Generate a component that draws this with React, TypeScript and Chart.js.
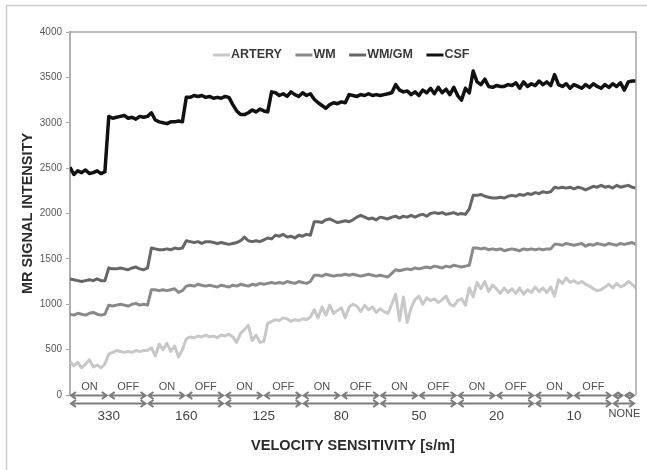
import React, { useEffect, useRef } from 'react';
import { Chart, registerables } from 'chart.js';

Chart.register(...registerables);

const FONT = "'Liberation Sans', Arial, Helvetica, sans-serif";

const SERIES_NAMES = ['ARTERY', 'WM', 'WM/GM', 'CSF'];
const SERIES_COLORS = ['#c8c8c8', '#8a8a8a', '#666666', '#111111'];

const ARTERY = [
  370, 320, 360, 300, 340, 390, 310, 330, 300, 340,
  450, 470, 490, 480, 470, 480, 470, 490, 480, 490,
  490, 520, 430, 560, 500, 570, 480, 540, 420, 500,
  620, 640, 630, 650, 640, 660, 640, 650, 630, 660,
  650, 670, 640, 580, 680, 720, 770, 600, 660, 580,
  590, 790, 810, 830, 820, 850, 840, 810, 830, 820,
  840, 830, 860, 940, 850, 970, 880, 990, 900, 930,
  960, 850, 970, 1000, 980, 920, 990, 940, 970, 910,
  950, 920, 900, 1000, 1110, 820, 1080, 800, 960, 1050,
  1090, 1000, 1070, 1040, 1060, 1020, 1050, 1090, 1000, 980,
  1040, 1060, 990, 1180, 1080, 1240, 1170, 1250, 1140, 1210,
  1170, 1120, 1180, 1130, 1170, 1120, 1180, 1110, 1160, 1130,
  1190, 1140, 1180, 1130, 1190, 1090, 1270, 1230, 1290, 1240,
  1260, 1230, 1250, 1220, 1200, 1170, 1150, 1160, 1190, 1220,
  1180, 1230, 1190, 1210, 1250, 1220, 1180,
];

const WM = [
  890, 880, 900, 890, 880, 900, 910, 890, 880, 890,
  990, 980, 990, 1000, 990, 980, 1000, 1010, 990, 1000,
  990, 1160, 1160, 1150, 1160, 1150, 1160, 1170, 1130, 1150,
  1200, 1210, 1200, 1220, 1210, 1200, 1210, 1200, 1190, 1210,
  1200, 1190, 1210, 1200, 1220, 1210, 1200, 1220, 1210, 1230,
  1220, 1230, 1240, 1230, 1240, 1230, 1250, 1240, 1230, 1250,
  1240, 1230, 1250, 1320, 1320, 1310, 1330, 1320, 1310, 1320,
  1320, 1330, 1320, 1330, 1320, 1310, 1320, 1330, 1320, 1310,
  1320, 1310, 1300, 1340, 1380, 1370, 1380, 1390, 1380, 1400,
  1390, 1400, 1410, 1400, 1420, 1410, 1400, 1420, 1410, 1430,
  1420, 1410, 1420, 1430, 1620, 1620, 1610, 1620, 1600, 1610,
  1600, 1610, 1590, 1600, 1610, 1600, 1590, 1610, 1600, 1610,
  1600, 1610, 1600, 1610, 1610, 1660, 1660, 1650, 1670, 1660,
  1650, 1660, 1670, 1640, 1660, 1650, 1670, 1660, 1650, 1670,
  1660, 1650, 1670, 1660, 1670, 1680, 1660,
];

const WM_GM = [
  1280, 1270, 1260, 1250, 1260, 1270, 1260, 1280, 1260, 1260,
  1400, 1390, 1390, 1400, 1390, 1380, 1400, 1410, 1390, 1380,
  1400, 1620, 1610, 1600, 1600, 1610, 1600, 1620, 1610, 1620,
  1700, 1690, 1680, 1690, 1670, 1690, 1690, 1680, 1670, 1680,
  1670, 1660, 1670, 1680, 1700, 1740, 1700, 1690, 1700, 1690,
  1710, 1730, 1720, 1760, 1750, 1770, 1740, 1750, 1730, 1760,
  1750, 1770, 1760, 1910, 1910, 1900, 1930, 1940, 1920, 1900,
  1910, 1920, 1910, 1930, 1960, 1980, 1960, 1940, 1950, 1930,
  1960, 1950, 1940, 1960, 1970, 1950, 1970, 1960, 1980, 1960,
  1980, 1990, 1970, 2000, 2010, 2000, 2010, 1990, 2000, 2010,
  1990, 2000, 1990, 2050, 2200, 2200, 2210, 2190, 2180, 2170,
  2170, 2180, 2170, 2190, 2200, 2190, 2210, 2200, 2220, 2210,
  2230, 2220, 2240, 2230, 2240, 2290, 2280, 2290, 2280, 2290,
  2270, 2290, 2280, 2260, 2280, 2300, 2290, 2310, 2290, 2300,
  2280, 2310, 2290, 2300, 2310, 2290, 2280,
];

const CSF = [
  2510, 2430, 2470, 2450, 2480, 2440, 2450, 2470, 2440, 2460,
  3070, 3050, 3060, 3070, 3080, 3050, 3060, 3040, 3070, 3060,
  3070, 3110, 3030, 3010, 3000, 2990, 3010, 3010, 3020, 3010,
  3280, 3280, 3300, 3290, 3300, 3280, 3290, 3270, 3280, 3270,
  3290, 3280, 3200, 3130, 3090, 3090, 3110, 3140, 3120, 3150,
  3130, 3120, 3340, 3330, 3300, 3320, 3290, 3340, 3310, 3290,
  3330, 3300, 3320, 3260, 3220, 3190, 3160, 3200, 3220, 3210,
  3230, 3220, 3310, 3300, 3290, 3310, 3300, 3320, 3300, 3310,
  3300, 3310, 3320, 3330, 3420, 3360, 3340, 3350, 3310, 3340,
  3300, 3360, 3330, 3380, 3320, 3390, 3330, 3370, 3310, 3390,
  3300, 3250, 3380, 3330, 3570, 3450, 3420, 3480, 3400, 3390,
  3410, 3400, 3400, 3420, 3410, 3440, 3380, 3450, 3400, 3430,
  3410, 3460, 3420, 3450, 3410, 3530, 3420, 3400, 3430, 3380,
  3420, 3400, 3380, 3420, 3390, 3430, 3400, 3380, 3420, 3390,
  3430, 3400, 3440, 3360, 3450, 3460, 3460,
];

const SERIES_VALUES = [ARTERY, WM, WM_GM, CSF];

const Y_MIN = 0;
const Y_MAX = 4000;
const Y_STEP = 500;

const SPEED_LABELS = ['330', '160', '125', '80', '50', '20', '10', 'NONE'];
const SPEED_EDGES = [0, 20, 40, 60, 80, 100, 120, 140, 146];
const PHASE_LABELS = [
  'ON', 'OFF', 'ON', 'OFF', 'ON', 'OFF', 'ON', 'OFF',
  'ON', 'OFF', 'ON', 'OFF', 'ON', 'OFF', '', '',
];
const PHASE_EDGES = [0, 10, 20, 30, 40, 50, 60, 70, 80, 90, 100, 110, 120, 130, 140, 143, 146];

const X_TITLE = 'VELOCITY SENSITIVITY [s/m]';
const Y_TITLE = 'MR SIGNAL INTENSITY';

function drawArrow(ctx: CanvasRenderingContext2D, x1: number, x2: number, y: number) {
  const h = 5;
  const w = 3.5;
  ctx.beginPath();
  ctx.moveTo(x1, y);
  ctx.lineTo(x2, y);
  ctx.moveTo(x1 + h, y - w);
  ctx.lineTo(x1, y);
  ctx.lineTo(x1 + h, y + w);
  ctx.moveTo(x2 - h, y - w);
  ctx.lineTo(x2, y);
  ctx.lineTo(x2 - h, y + w);
  ctx.stroke();
}

const decorPlugin = {
  id: 'decor',
  beforeDraw(chart: any) {
    const ctx = chart.ctx as CanvasRenderingContext2D;
    ctx.save();
    ctx.fillStyle = '#ffffff';
    ctx.fillRect(0, 0, chart.width, chart.height);
    ctx.strokeStyle = '#cccccc';
    ctx.lineWidth = 1.5;
    ctx.strokeRect(6.5, 5.5, chart.width + 20, chart.height + 20);
    ctx.restore();
  },
  afterDraw(chart: any) {
    const ctx = chart.ctx as CanvasRenderingContext2D;
    const area = chart.chartArea;
    const xs = chart.scales.x;
    const ys = chart.scales.y;
    const y0 = ys.getPixelForValue(0);
    ctx.save();

    // plot frame (top and right)
    ctx.strokeStyle = '#a6a6a6';
    ctx.lineWidth = 1.5;
    ctx.beginPath();
    ctx.moveTo(area.left, area.top);
    ctx.lineTo(area.right, area.top);
    ctx.lineTo(area.right, y0);
    ctx.stroke();

    // arrows
    ctx.strokeStyle = '#7c7c7c';
    ctx.lineWidth = 2;
    ctx.lineJoin = 'miter';
    for (let i = 0; i < PHASE_EDGES.length - 1; i++) {
      const a = xs.getPixelForValue(PHASE_EDGES[i]) + 1;
      const b = xs.getPixelForValue(PHASE_EDGES[i + 1]) - 2;
      drawArrow(ctx, a, b, y0 + 0.5);
    }
    for (let i = 0; i < SPEED_EDGES.length - 1; i++) {
      const a = xs.getPixelForValue(SPEED_EDGES[i]) + 1;
      const b = xs.getPixelForValue(SPEED_EDGES[i + 1]) - 2;
      drawArrow(ctx, a, b, y0 + 8.5);
    }

    // phase labels
    ctx.fillStyle = '#505050';
    ctx.textAlign = 'center';
    ctx.textBaseline = 'middle';
    ctx.font = `11px ${FONT}`;
    for (let i = 0; i < PHASE_LABELS.length; i++) {
      if (!PHASE_LABELS[i]) continue;
      const c = (xs.getPixelForValue(PHASE_EDGES[i]) + xs.getPixelForValue(PHASE_EDGES[i + 1])) / 2;
      ctx.fillText(PHASE_LABELS[i], c, y0 - 8.5);
    }

    // speed labels
    for (let i = 0; i < SPEED_LABELS.length; i++) {
      const c = (xs.getPixelForValue(SPEED_EDGES[i]) + xs.getPixelForValue(SPEED_EDGES[i + 1])) / 2;
      const small = SPEED_LABELS[i].length > 3;
      ctx.font = small ? `11px ${FONT}` : `13.5px ${FONT}`;
      ctx.fillStyle = '#454545';
      ctx.fillText(SPEED_LABELS[i], c, y0 + (small ? 19 : 21));
    }

    // legend
    ctx.font = `bold 12.5px ${FONT}`;
    ctx.textAlign = 'left';
    let x = area.left + 143;
    const ly = area.top + 23;
    for (let i = 0; i < SERIES_NAMES.length; i++) {
      ctx.strokeStyle = SERIES_COLORS[i];
      ctx.lineWidth = 3;
      ctx.beginPath();
      ctx.moveTo(x, ly);
      ctx.lineTo(x + 17, ly);
      ctx.stroke();
      ctx.fillStyle = '#3a3a3a';
      ctx.fillText(SERIES_NAMES[i], x + 18, ly);
      x += 18 + ctx.measureText(SERIES_NAMES[i]).width + 13.5;
    }
    ctx.restore();
  },
};

export default function App() {
  const ref = useRef<HTMLCanvasElement | null>(null);

  useEffect(() => {
    if (!ref.current) return;
    const chart = new Chart(ref.current, {
      type: 'line',
      data: {
        datasets: SERIES_NAMES.map((name, k) => ({
          label: name,
          data: SERIES_VALUES[k].map((v, i) => ({ x: i, y: v })),
          borderColor: SERIES_COLORS[k],
          backgroundColor: SERIES_COLORS[k],
          borderWidth: k === 3 ? 3.5 : 3,
          pointRadius: 0,
          tension: 0,
          borderJoinStyle: 'round' as const,
          fill: false,
        })),
      },
      options: {
        animation: false,
        responsive: false,
        devicePixelRatio: 1,
        layout: { padding: { left: 0, top: 32, right: 11, bottom: 15 } },
        plugins: {
          legend: { display: false },
          tooltip: { enabled: false },
        },
        scales: {
          x: {
            type: 'linear',
            min: 0,
            max: SPEED_EDGES[SPEED_EDGES.length - 1],
            ticks: { display: false },
            grid: { display: false },
            border: { display: false },
            title: {
              display: true,
              text: X_TITLE,
              color: '#2b2b2b',
              font: { family: FONT, size: 14.5, weight: 'bold' },
              padding: { top: 34.6, bottom: 0 },
            },
          },
          y: {
            min: Y_MIN,
            max: Y_MAX,
            ticks: {
              stepSize: Y_STEP,
              color: '#595959',
              font: { family: FONT, size: 10 },
              padding: 4,
              callback: (v: any) => String(v),
            },
            grid: {
              drawOnChartArea: false,
              drawTicks: true,
              tickLength: 4,
              color: '#a6a6a6',
              lineWidth: 1,
            },
            border: { display: true, color: '#b0b0b0', width: 2 },
            title: {
              display: true,
              text: Y_TITLE,
              color: '#2b2b2b',
              font: { family: FONT, size: 14.5, weight: 'bold' },
              padding: { top: 19, bottom: 0 },
            },
            afterFit: (scale: any) => {
              scale.width = 70;
            },
          },
        },
      },
      plugins: [decorPlugin],
    });
    return () => chart.destroy();
  }, []);

  return (
    <div style={{ position: 'absolute', left: 0, top: 0, width: 647, height: 470 }}>
      <canvas ref={ref} width={647} height={470} />
    </div>
  );
}
